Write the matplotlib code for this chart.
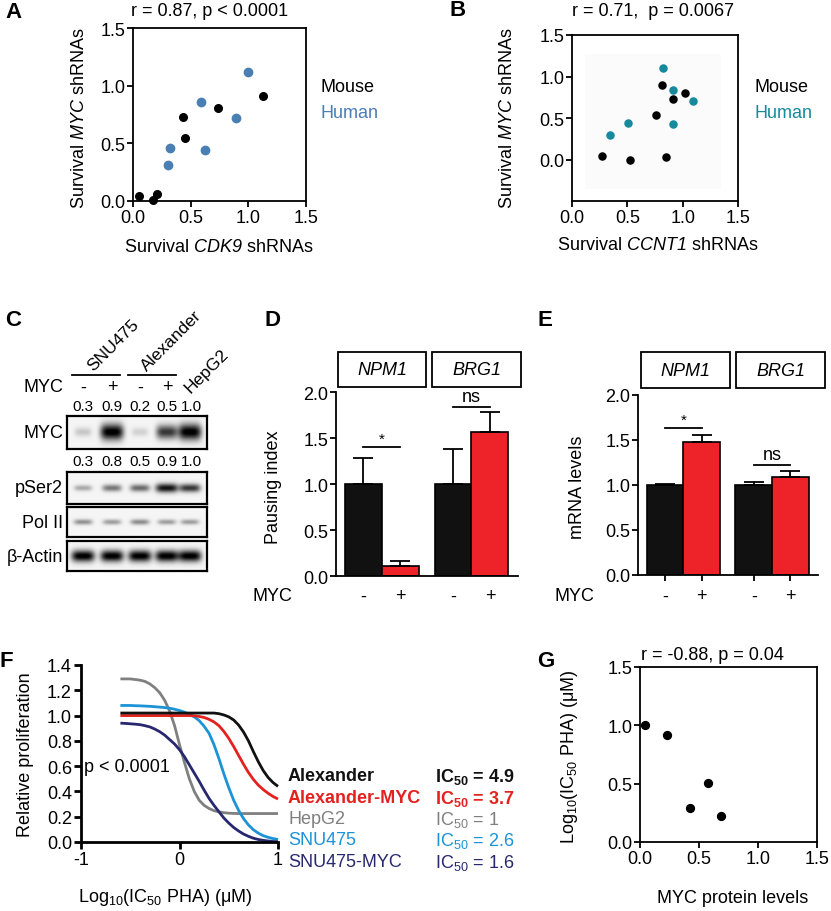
import numpy as np
import matplotlib
matplotlib.use("Agg")
import matplotlib.pyplot as plt
from matplotlib.patches import Rectangle

plt.rcParams['font.family'] = ['Liberation Sans', 'DejaVu Sans']
plt.rcParams['axes.unicode_minus'] = False
plt.rcParams['mathtext.fontset'] = 'custom'
plt.rcParams['mathtext.rm'] = 'Liberation Sans'
plt.rcParams['mathtext.it'] = 'Liberation Sans:italic'
plt.rcParams['mathtext.sf'] = 'Liberation Sans:italic'   # used for gene names (italic digits too)
plt.rcParams['mathtext.bf'] = 'Liberation Sans:bold'

# ---- data ----
# A: survival after CDK9 vs MYC shRNAs
a_mouse_x = [0.05, 0.17, 0.21, 0.43, 0.45, 0.74, 1.13]
a_mouse_y = [0.04, 0.01, 0.06, 0.73, 0.55, 0.81, 0.91]
a_human_x = [0.30, 0.32, 0.59, 0.62, 0.89, 1.00]
a_human_y = [0.31, 0.46, 0.86, 0.44, 0.72, 1.12]

# B: survival after CCNT1 vs MYC shRNAs
b_mouse_x = [0.27, 0.52, 0.85, 0.76, 0.81, 0.91, 1.02]
b_mouse_y = [0.04, 0.00, 0.03, 0.54, 0.90, 0.73, 0.80]
b_human_x = [0.34, 0.51, 0.82, 0.91, 1.09, 0.91]
b_human_y = [0.29, 0.44, 1.10, 0.84, 0.71, 0.43]

# C: western blot band intensities per lane
lane_labels = ['-', '+', '-', '+']
myc_quant = ['0.3', '0.9', '0.2', '0.5', '1.0']
pser2_quant = ['0.3', '0.8', '0.5', '0.9', '1.0']
myc_band = [0.18, 1.0, 0.14, 0.75, 1.0]
pser2_band = [0.30, 0.50, 0.55, 0.90, 0.75]
pol2_band = [0.40, 0.35, 0.42, 0.35, 0.35]
actin_band = [1.0, 1.0, 1.0, 1.0, 1.0]

# D/E: bar charts
genes = ['NPM1', 'BRG1']
pausing_mean = [1.00, 0.11, 1.00, 1.57]
pausing_err = [0.28, 0.05, 0.38, 0.21]
mrna_mean = [1.00, 1.48, 1.00, 1.09]
mrna_err = [0.01, 0.08, 0.03, 0.07]

# F: dose response curves
f_x = [-0.6, -0.55, -0.5, -0.45, -0.4, -0.35, -0.3, -0.25, -0.2, -0.15, -0.1, -0.05, 0.0,
       0.05, 0.1, 0.15, 0.2, 0.25, 0.3, 0.35, 0.4, 0.45, 0.5, 0.55, 0.6, 0.65, 0.7, 0.75,
       0.8, 0.85, 0.9, 0.95, 1.0]
alex = [1.02] * 20 + [1.015, 1.005, 0.99, 0.965, 0.925, 0.87, 0.80, 0.715, 0.635, 0.565,
                      0.51, 0.47, 0.44]
alex_myc = [1.00] * 15 + [0.998, 0.993, 0.985, 0.97, 0.95, 0.92, 0.875, 0.82, 0.755, 0.685,
                          0.615, 0.55, 0.495, 0.45, 0.415, 0.385, 0.36, 0.34]
hepg2 = [1.29, 1.29, 1.29, 1.285, 1.28, 1.27, 1.25, 1.22, 1.18, 1.12, 1.035, 0.92, 0.77,
         0.63, 0.50, 0.40, 0.33, 0.29, 0.265, 0.248, 0.238, 0.232, 0.228, 0.226, 0.225,
         0.225, 0.225, 0.225, 0.225, 0.225, 0.225, 0.225, 0.225]
snu475 = [1.08, 1.08, 1.08, 1.078, 1.077, 1.075, 1.073, 1.07, 1.067, 1.063, 1.058, 1.05,
          1.04, 1.027, 1.01, 0.99, 0.96, 0.915, 0.86, 0.77, 0.66, 0.54, 0.43, 0.33, 0.25,
          0.185, 0.135, 0.097, 0.07, 0.05, 0.037, 0.027, 0.02]
snu475_myc = [0.94, 0.938, 0.935, 0.932, 0.928, 0.92, 0.91, 0.893, 0.872, 0.845, 0.81,
              0.775, 0.73, 0.675, 0.61, 0.545, 0.48, 0.41, 0.345, 0.29, 0.24, 0.19, 0.15,
              0.115, 0.087, 0.063, 0.045, 0.03, 0.02, 0.013, 0.008, 0.004, 0.002]
cell_lines = ['Alexander', 'Alexander-MYC', 'HepG2', 'SNU475', 'SNU475-MYC']
ic50 = ['4.9', '3.7', '1', '2.6', '1.6']
line_colors = ['#111111', '#e3211f', '#808080', '#1b93d6', '#27286f']

# G: MYC protein vs IC50
g_x = [0.04, 0.23, 0.58, 0.42, 0.69]
g_y = [1.00, 0.92, 0.51, 0.29, 0.22]

# ---- layout helpers (pixel coordinates) ----
W, H = 831, 912
FS = 13
fig = plt.figure(figsize=(W / 100, H / 100), dpi=100)


def px_axes(x0, y0, x1, y1):
    return fig.add_axes([x0 / W, 1 - y1 / H, (x1 - x0) / W, (y1 - y0) / H])


def ftext(x, y, s, **kw):
    kw.setdefault('ha', 'center')
    kw.setdefault('va', 'center')
    kw.setdefault('fontsize', FS)
    fig.text(x / W, 1 - y / H, s, **kw)


def frame_style(ax, lw=1.3, full=True, size=FS):
    for side in ['top', 'right']:
        ax.spines[side].set_visible(full)
    for sp in ax.spines.values():
        sp.set_linewidth(lw)
    ax.tick_params(direction='out', length=4, width=lw, labelsize=size, pad=1.5)


def panel_letter(x, y, s):
    ftext(x, y, s, fontsize=16, fontweight='bold')


def unit_ticks(ax, ylo=0):
    ax.set_xlim(0, 1.5)
    ax.set_ylim(ylo, 1.5)
    ax.set_xticks([0, 0.5, 1.0, 1.5])
    ax.set_yticks([0, 0.5, 1.0, 1.5])
    ax.xaxis.set_major_formatter('{x:.1f}')
    ax.yaxis.set_major_formatter('{x:.1f}')


# ---- A ----
ax = px_axes(133, 29, 306, 202)
ax.scatter(a_mouse_x, a_mouse_y, s=30, color='black', zorder=3, clip_on=False)
ax.scatter(a_human_x, a_human_y, s=36, color='#4a7fb4', zorder=3, clip_on=False)
unit_ticks(ax)
frame_style(ax)
panel_letter(13, 12, 'A')
ftext(210, 12, 'r = 0.87, p < 0.0001')
ftext(219, 248, r'Survival $\mathsf{CDK9}$ shRNAs')
ftext(80, 118, r'Survival $\mathsf{MYC}$ shRNAs', rotation=90)
ftext(320, 87, 'Mouse', ha='left')
ftext(320, 113, 'Human', ha='left', color='#4a7fb4')

# ---- B ----
ax = px_axes(572, 36, 738, 202)
ax.add_patch(Rectangle((0.12, -0.35), 1.23, 1.62, color='#fbfbfb', zorder=0, lw=0))
ax.scatter(b_mouse_x, b_mouse_y, s=26, color='black', zorder=3)
ax.scatter(b_human_x, b_human_y, s=26, color='#168a9c', zorder=3)
unit_ticks(ax, ylo=-0.5)
frame_style(ax)
panel_letter(458, 11, 'B')
ftext(653, 11, 'r = 0.71,  p = 0.0067')
ftext(658, 246, r'Survival $\mathsf{CCNT1}$ shRNAs')
ftext(507, 118, r'Survival $\mathsf{MYC}$ shRNAs', rotation=90)
ftext(754, 87, 'Mouse', ha='left')
ftext(754, 113, 'Human', ha='left', color='#168a9c')

# ---- C: western blot ----
lane_pos = [0.114, 0.321, 0.521, 0.714, 0.879]
lane_px = [83, 112, 140, 167, 191]


def blot(y0, y1, bands, label, width=0.075, height=0.14):
    bax = px_axes(67, y0, 207, y1)
    xs = np.linspace(0, 1, 280)
    ys = np.linspace(0, 1, 60)
    X, Y = np.meshgrid(xs, ys)
    img = np.full(X.shape, 0.04)
    for xc, v in zip(lane_pos, bands):
        sx = width * (0.75 + 0.35 * v)
        sy = height * (0.7 + 0.8 * v)
        img += v * np.exp(-(np.abs(X - xc) / sx) ** 4) * np.exp(-((Y - 0.5) / sy) ** 2)
    bax.imshow(np.clip(img, 0, 1), cmap='gray_r', vmin=0, vmax=1,
               extent=[0, 1, 0, 1], aspect='auto', interpolation='bilinear')
    bax.set_xticks([])
    bax.set_yticks([])
    for sp in bax.spines.values():
        sp.set_linewidth(1.6)
    ftext(63, (y0 + y1) / 2, label, ha='right')


panel_letter(13, 321, 'C')
ftext(113, 346, 'SNU475', fontsize=12.5, rotation=45)
ftext(171, 341, 'Alexander', fontsize=12.5, rotation=45)
ftext(207, 371, 'HepG2', fontsize=12.5, rotation=45)
fig.add_artist(plt.Line2D([72 / W, 120 / W], [1 - 376 / H, 1 - 376 / H], color='black', lw=1.3))
fig.add_artist(plt.Line2D([128 / W, 176 / W], [1 - 376 / H, 1 - 376 / H], color='black', lw=1.3))
ftext(63, 388, 'MYC', ha='right')
for xp, s in zip(lane_px[:4], lane_labels):
    ftext(xp, 388, s)
for xp, s in zip(lane_px, myc_quant):
    ftext(xp, 407, s, fontsize=11)
for xp, s in zip(lane_px, pser2_quant):
    ftext(xp, 462, s, fontsize=11)
blot(417, 450, myc_band, 'MYC', height=0.16)
blot(473, 505, pser2_band, 'pSer2', height=0.1)
blot(508, 538, pol2_band, 'Pol II', height=0.09)
blot(542, 572, actin_band, 'β-Actin', height=0.13)

# ---- D & E: bar charts ----
bar_x = [0, 1, 2.43, 3.43]
bar_colors = ['#111111', '#ee2229', '#111111', '#ee2229']
XLO, XHI = -0.74, 4.19


def bar_panel(x0, x1, y_top, y_bot, means, errs, ylabel, ylabel_x, sig, xticks):
    bx = px_axes(x0, y_top, x1, y_bot)
    bx.bar(bar_x, means, width=1.0, color=bar_colors, edgecolor='black', linewidth=1.2, zorder=2)
    bx.errorbar(bar_x, means, yerr=[[0] * 4, errs], fmt='none', ecolor='black',
                elinewidth=1.3, capsize=7, capthick=1.3, zorder=3)
    bx.set_xlim(XLO, XHI)
    bx.set_ylim(0, 2.0)
    bx.set_yticks([0, 0.5, 1.0, 1.5, 2.0])
    bx.yaxis.set_major_formatter('{x:.1f}')
    frame_style(bx, lw=1.3, full=False)
    if xticks:
        bx.set_xticks(bar_x)
        bx.set_xticklabels([''] * 4)
    else:
        bx.set_xticks([])
    # significance bars
    for (i, j, yv, s) in sig:
        bx.plot([bar_x[i], bar_x[j]], [yv, yv], color='black', lw=1.3)
        bx.text((bar_x[i] + bar_x[j]) / 2, yv + 0.02, s, ha='center', va='bottom',
                fontsize=FS if s == 'ns' else 11)
    ftext(ylabel_x, 487, ylabel, rotation=90)
    # MYC row
    scale = (x1 - x0) / (XHI - XLO)
    ftext(x0 - 64, 597, 'MYC')
    for xv, s in zip(bar_x, lane_labels):
        ftext(x0 + (xv - XLO) * scale, 597, s)
    return bx


def gene_boxes(spans, y0, y1):
    for (bx0, bx1), g in zip(spans, genes):
        fig.add_artist(Rectangle((bx0 / W, 1 - y1 / H), (bx1 - bx0) / W, (y1 - y0) / H,
                                 transform=fig.transFigure, fill=False, lw=1.3, ec='black'))
        ftext((bx0 + bx1) / 2, (y0 + y1) / 2, g, style='italic')


panel_letter(272, 321, 'D')
bar_panel(336, 518, 393, 577, pausing_mean, pausing_err, 'Pausing index', 273,
          [(0, 1, 1.40, '*'), (2, 3, 1.84, 'ns')], False)
gene_boxes([(338, 426), (432, 521)], 353, 388)

panel_letter(545, 321, 'E')
bar_panel(638, 818, 396, 576, mrna_mean, mrna_err, 'mRNA levels', 578,
          [(0, 1, 1.63, '*'), (2, 3, 1.22, 'ns')], True)
gene_boxes([(641, 730), (736, 825)], 353, 389)

# ---- F: dose response ----
ax = px_axes(81, 666, 278, 843)
order = [2, 3, 1, 0, 4]
curves = [alex, alex_myc, hepg2, snu475, snu475_myc]
for k in order:
    ax.plot(f_x, curves[k], color=line_colors[k], lw=2.0, solid_capstyle='butt', clip_on=False)
ax.set_xlim(-1, 1)
ax.set_ylim(0, 1.4)
ax.set_xticks([-1, 0, 1])
ax.set_yticks(np.arange(0, 1.41, 0.2))
ax.yaxis.set_major_formatter('{x:.1f}')
frame_style(ax, lw=2.0, full=False)
ax.tick_params(length=5)
panel_letter(6, 662, 'F')
ftext(84, 768, 'p < 0.0001', ha='left')
ftext(26, 755, 'Relative proliferation', rotation=90)
ftext(165, 898, r'Log$_{10}$(IC$_{50}$ PHA) (μM)')
rows_y = [777, 799, 820, 841, 863]
for k, (name, val, c, yv) in enumerate(zip(cell_lines, ic50, line_colors, rows_y)):
    wt = 'bold' if k < 2 else 'normal'
    sub = r'$_{\mathbf{50}}$' if k < 2 else r'$_{50}$'
    ftext(288, yv, name, ha='left', color=c, fontweight=wt)
    ftext(435, yv, 'IC' + sub + ' = ' + val, ha='left', color=c, fontweight=wt)

# ---- G ----
ax = px_axes(640, 668, 817, 843)
ax.scatter(g_x, g_y, s=32, color='black', zorder=3, clip_on=False)
unit_ticks(ax)
frame_style(ax)
panel_letter(546, 662, 'G')
ftext(712, 656, 'r = -0.88, p = 0.04')
ftext(733, 899, 'MYC protein levels')
ftext(570, 757, r'Log$_{10}$(IC$_{50}$ PHA) (μM)', rotation=90)

fig.savefig('out.png', dpi=100)
